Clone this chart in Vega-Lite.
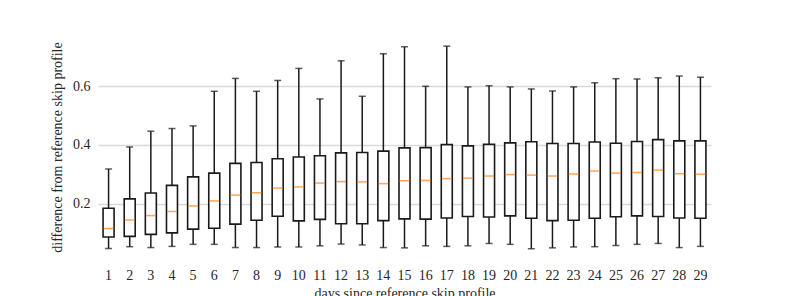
{
  "$schema": "https://vega.github.io/schema/vega-lite/v6.json",
  "width": 613,
  "height": 224,
  "autosize": {"type": "none"},
  "padding": {"left": 98, "top": 35, "right": 78, "bottom": 37},
  "background": "white",
  "config": {
    "view": {"stroke": null},
    "font": "Liberation Serif",
    "axis": {"labelFont": "Liberation Serif", "titleFont": "Liberation Serif", "labelFontSize": 14, "titleFontSize": 14, "titleFontWeight": "normal", "labelColor": "#262626", "titleColor": "#262626"}
  },
  "data": {
    "values": [
      {"day": 1, "lower": 0.047, "q1": 0.086, "median": 0.115, "q3": 0.184, "upper": 0.318},
      {"day": 2, "lower": 0.053, "q1": 0.088, "median": 0.144, "q3": 0.216, "upper": 0.393},
      {"day": 3, "lower": 0.050, "q1": 0.095, "median": 0.159, "q3": 0.236, "upper": 0.447},
      {"day": 4, "lower": 0.054, "q1": 0.100, "median": 0.173, "q3": 0.262, "upper": 0.456},
      {"day": 5, "lower": 0.061, "q1": 0.113, "median": 0.192, "q3": 0.291, "upper": 0.465},
      {"day": 6, "lower": 0.061, "q1": 0.116, "median": 0.209, "q3": 0.304, "upper": 0.583},
      {"day": 7, "lower": 0.050, "q1": 0.130, "median": 0.229, "q3": 0.337, "upper": 0.627},
      {"day": 8, "lower": 0.050, "q1": 0.143, "median": 0.237, "q3": 0.340, "upper": 0.583},
      {"day": 9, "lower": 0.052, "q1": 0.157, "median": 0.253, "q3": 0.353, "upper": 0.620},
      {"day": 10, "lower": 0.052, "q1": 0.141, "median": 0.257, "q3": 0.359, "upper": 0.661},
      {"day": 11, "lower": 0.056, "q1": 0.146, "median": 0.270, "q3": 0.363, "upper": 0.557},
      {"day": 12, "lower": 0.062, "q1": 0.131, "median": 0.275, "q3": 0.373, "upper": 0.687},
      {"day": 13, "lower": 0.059, "q1": 0.131, "median": 0.274, "q3": 0.374, "upper": 0.566},
      {"day": 14, "lower": 0.050, "q1": 0.142, "median": 0.268, "q3": 0.379, "upper": 0.711},
      {"day": 15, "lower": 0.049, "q1": 0.148, "median": 0.278, "q3": 0.390, "upper": 0.735},
      {"day": 16, "lower": 0.056, "q1": 0.147, "median": 0.279, "q3": 0.391, "upper": 0.600},
      {"day": 17, "lower": 0.054, "q1": 0.151, "median": 0.285, "q3": 0.401, "upper": 0.737},
      {"day": 18, "lower": 0.056, "q1": 0.156, "median": 0.287, "q3": 0.397, "upper": 0.598},
      {"day": 19, "lower": 0.064, "q1": 0.154, "median": 0.294, "q3": 0.402, "upper": 0.602},
      {"day": 20, "lower": 0.061, "q1": 0.158, "median": 0.299, "q3": 0.407, "upper": 0.598},
      {"day": 21, "lower": 0.046, "q1": 0.150, "median": 0.297, "q3": 0.411, "upper": 0.591},
      {"day": 22, "lower": 0.049, "q1": 0.142, "median": 0.294, "q3": 0.405, "upper": 0.584},
      {"day": 23, "lower": 0.052, "q1": 0.143, "median": 0.301, "q3": 0.405, "upper": 0.598},
      {"day": 24, "lower": 0.053, "q1": 0.150, "median": 0.311, "q3": 0.410, "upper": 0.612},
      {"day": 25, "lower": 0.057, "q1": 0.155, "median": 0.304, "q3": 0.406, "upper": 0.626},
      {"day": 26, "lower": 0.061, "q1": 0.158, "median": 0.306, "q3": 0.412, "upper": 0.625},
      {"day": 27, "lower": 0.064, "q1": 0.156, "median": 0.314, "q3": 0.418, "upper": 0.629},
      {"day": 28, "lower": 0.050, "q1": 0.151, "median": 0.302, "q3": 0.414, "upper": 0.635},
      {"day": 29, "lower": 0.054, "q1": 0.150, "median": 0.300, "q3": 0.414, "upper": 0.631}
    ]
  },
  "encoding": {
    "x": {
      "field": "day", "type": "ordinal",
      "scale": {"paddingInner": 0, "paddingOuter": 0},
      "axis": {"title": "days since reference skip profile", "labelAngle": 0, "domain": false, "ticks": false, "labelPadding": 9, "titlePadding": 4}
    }
  },
  "layer": [
    {
      "mark": {"type": "rule", "color": "#1a1a1a", "strokeWidth": 1.5},
      "encoding": {
        "y": {"field": "lower", "type": "quantitative",
          "scale": {"domain": [0.011, 0.775], "nice": false, "zero": false},
          "axis": {"title": "difference from reference skip profile", "values": [0.2, 0.4, 0.6], "format": ".1f", "domain": false, "ticks": false, "labelPadding": 8, "titlePadding": 8, "gridColor": "#d9d9d9", "gridWidth": 1.3}},
        "y2": {"field": "upper"}
      }
    },
    {
      "mark": {"type": "tick", "color": "#1a1a1a", "size": 7, "thickness": 1.5},
      "encoding": {"y": {"field": "lower", "type": "quantitative"}}
    },
    {
      "mark": {"type": "tick", "color": "#1a1a1a", "size": 7, "thickness": 1.5},
      "encoding": {"y": {"field": "upper", "type": "quantitative"}}
    },
    {
      "mark": {"type": "bar", "size": 11, "fill": "white", "stroke": "#1a1a1a", "strokeWidth": 1.6},
      "encoding": {
        "y": {"field": "q1", "type": "quantitative"},
        "y2": {"field": "q3"}
      }
    },
    {
      "mark": {"type": "tick", "color": "#ff7f0e", "size": 10, "thickness": 1.5},
      "encoding": {"y": {"field": "median", "type": "quantitative"}}
    }
  ]
}
